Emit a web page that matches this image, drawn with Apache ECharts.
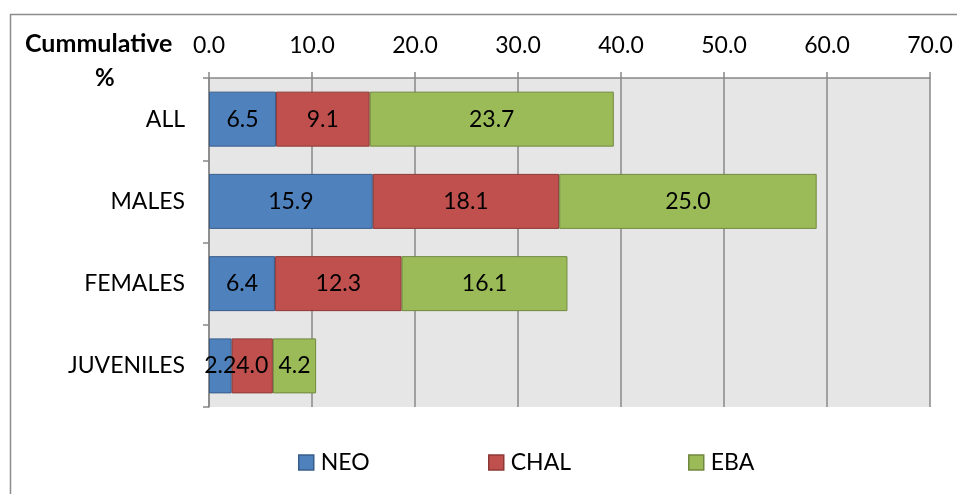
<!DOCTYPE html>
<html>
<head>
<meta charset="utf-8">
<script src="https://cdn.jsdelivr.net/npm/echarts@6/dist/echarts.min.js"></script>
<style>
  html, body { margin: 0; padding: 0; background: #fff; }
  #main { width: 957px; height: 494px; }
</style>
</head>
<body>
<div id="main"></div>
<script>
// data
const groups = ['ALL', 'MALES', 'FEMALES', 'JUVENILES'];
const neo = [6.5, 15.9, 6.4, 2.2];
const chal = [9.1, 18.1, 12.3, 4.0];
const eba = [23.7, 25.0, 16.1, 4.2];
const xTicks = [0, 10, 20, 30, 40, 50, 60, 70];

const font = 'Lato, "Open Sans", sans-serif';
const fs = 23;

function barSeries(name, data, color, border) {
    return {
        name: name,
        type: 'bar',
        stack: 'total',
        data: data,
        barWidth: 55,
        itemStyle: { color: color, borderColor: border, borderWidth: 1 },
        label: {
            show: true,
            position: 'inside',
            color: '#000',
            fontFamily: font,
            fontSize: fs,
            formatter: p => p.value.toFixed(1)
        }
    };
}

const myChart = echarts.init(document.getElementById('main'));
const option = {
    animation: false,
    textStyle: { fontFamily: font },
    grid: {
        left: 209, right: 27, top: 78, bottom: 87,
        show: true, backgroundColor: '#e6e6e6', borderWidth: 0
    },
    graphic: [
        {
            type: 'rect',
            shape: { x: 10.5, y: 14.5, width: 1000, height: 600 },
            style: { fill: 'none', stroke: '#8c8c8c', lineWidth: 1.5 }
        },
        {
            type: 'text', left: 25, top: 31,
            style: { text: 'Cummulative', font: 'bold 25px ' + font, fill: '#000' }
        },
        {
            type: 'text', left: 95, top: 66,
            style: { text: '%', font: 'bold 24px ' + font, fill: '#000' }
        }
    ],
    legend: [
        { data: ['NEO'], left: 293, top: 446 },
        { data: ['CHAL'], left: 483, top: 446 },
        { data: ['EBA'], left: 683, top: 446 }
    ].map(l => Object.assign(l, {
        icon: 'rect',
        itemWidth: 15, itemHeight: 15, itemGap: 4,
        itemStyle: { borderWidth: 1.5 },
        textStyle: { fontFamily: font, fontSize: fs, color: '#000', padding: [0, 0, 0, 2] }
    })),
    xAxis: {
        type: 'value',
        position: 'top',
        min: xTicks[0],
        max: xTicks[xTicks.length - 1],
        interval: 10,
        axisLine: { show: true, lineStyle: { color: '#888', width: 1.5 } },
        axisTick: { show: true, length: 6, lineStyle: { color: '#888', width: 1.5 } },
        splitLine: { show: true, lineStyle: { color: '#888', width: 1.5 } },
        axisLabel: {
            color: '#000', fontSize: fs, fontFamily: font, margin: 21,
            formatter: v => v.toFixed(1)
        }
    },
    yAxis: {
        type: 'category',
        data: groups,
        inverse: true,
        axisLine: { show: true, lineStyle: { color: '#888', width: 1.5 } },
        axisTick: { show: true, length: 6, lineStyle: { color: '#888', width: 1.5 } },
        axisLabel: { color: '#000', fontSize: fs, fontFamily: font, margin: 24 }
    },
    series: [
        barSeries('NEO', neo, '#4f81bd', '#385d8a'),
        barSeries('CHAL', chal, '#c0504d', '#8c3836'),
        barSeries('EBA', eba, '#9bbb59', '#71893f')
    ]
};
myChart.setOption(option);
</script>
</body>
</html>
